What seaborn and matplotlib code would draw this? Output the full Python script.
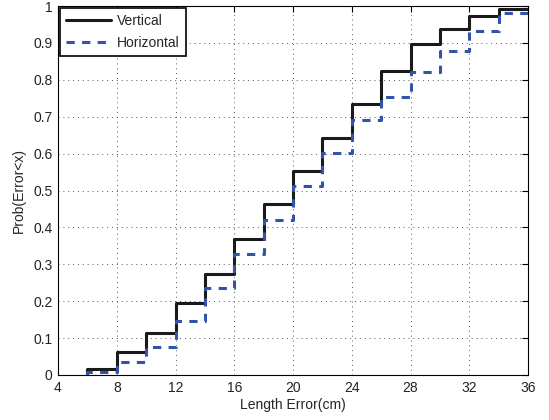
import matplotlib
matplotlib.use("Agg")
import matplotlib.pyplot as plt
import seaborn as sns
import pandas as pd

# Data
error_cm = [6, 8, 10, 12, 14, 16, 18, 20, 22, 24, 26, 28, 30, 32, 34, 36]
vertical = [0.0, 0.015, 0.061, 0.113, 0.194, 0.275, 0.368, 0.463, 0.552, 0.643, 0.735, 0.825, 0.898, 0.937, 0.973, 0.993]
horizontal = [0.0, 0.008, 0.036, 0.077, 0.145, 0.237, 0.328, 0.421, 0.511, 0.601, 0.692, 0.754, 0.821, 0.877, 0.931, 0.981]
series_names = ["Vertical", "Horizontal"]
x_ticks = [4, 8, 12, 16, 20, 24, 28, 32, 36]
y_ticks = [0, 0.1, 0.2, 0.3, 0.4, 0.5, 0.6, 0.7, 0.8, 0.9, 1]
y_tick_labels = ["0", "0.1", "0.2", "0.3", "0.4", "0.5", "0.6", "0.7", "0.8", "0.9", "1"]

df = pd.concat([
    pd.DataFrame({"x": error_cm, "p": vertical, "series": series_names[0]}),
    pd.DataFrame({"x": error_cm, "p": horizontal, "series": series_names[1]}),
])

sns.set_style("white")
plt.rcParams["font.family"] = ["Liberation Sans", "DejaVu Sans"]
plt.rcParams["font.size"] = 10

fig = plt.figure(figsize=(5.49, 4.2), dpi=100)
ax = fig.add_axes([58 / 549, 1 - 375 / 420, 470 / 549, 369 / 420])

sns.lineplot(data=df, x="x", y="p", hue="series", style="series",
             palette={"Vertical": "#1a1a1a", "Horizontal": "#3353a8"},
             dashes={"Vertical": "", "Horizontal": (2.7, 2.4)},
             drawstyle="steps-pre", linewidth=2.2, estimator=None, sort=False,
             ax=ax)

ax.set_xlim(4, 36)
ax.set_ylim(0, 1)
ax.set_xticks(x_ticks)
ax.set_yticks(y_ticks)
ax.set_yticklabels(y_tick_labels)
ax.grid(True, linestyle=(0, (1, 4)), color="#555555", linewidth=0.7)
ax.tick_params(direction="in", top=True, right=True, length=4, width=0.8,
               labelsize=10, pad=4, colors="black")
ax.tick_params(axis="both", labelcolor="#222222")
for s in ax.spines.values():
    s.set_visible(True)
    s.set_color("black")
    s.set_linewidth(0.8)
ax.set_xlabel("Length Error(cm)", fontsize=10, labelpad=2.5)
ax.set_ylabel("Prob(Error<x)", fontsize=10, labelpad=5)

leg = ax.legend(title=None, loc="upper left", frameon=True, fancybox=False,
                edgecolor="black", framealpha=1, fontsize=10, handlelength=3.2,
                handletextpad=0.45, borderaxespad=0.15, borderpad=0.45,
                labelspacing=0.55)
leg.get_frame().set_linewidth(1.2)

fig.savefig("out.png", dpi=100)
